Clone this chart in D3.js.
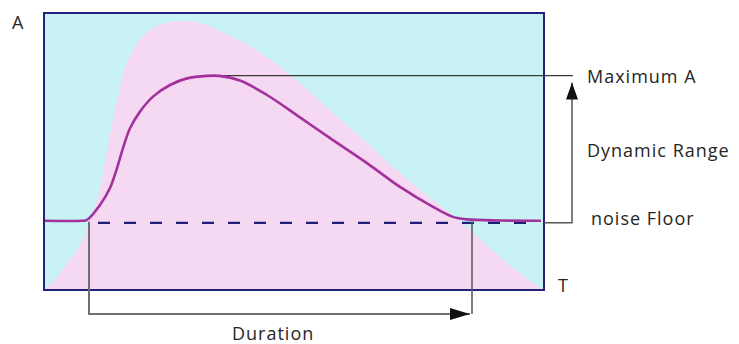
<!DOCTYPE html>
<html>

<head>
    <meta charset="utf-8">
    <script src="https://d3js.org/d3.v7.min.js"></script>
    <style>
        body { margin: 0; background: #fff; }
        text { font-family: "Open Sans", sans-serif; fill: #262626; font-weight: 500; letter-spacing: 1px; }
    </style>
</head>

<body>
    <script type="text/javascript">
        // envelope (pink area): time, amplitude
        let envelopeT = [0, 11, 23, 36, 46, 53, 58, 64, 71, 78, 84, 94, 106, 121, 141, 156, 189, 223, 256, 289, 323, 356, 389, 423, 456, 489, 500];
        let envelopeA = [0, 3.6, 9.7, 16.2, 25.3, 32.5, 40.8, 52.3, 65.0, 75.8, 83.0, 89.5, 93.9, 96.4, 97.1, 96.4, 91.3, 84.1, 74.7, 63.9, 53.1, 42.2, 32.5, 22.7, 11.9, 2.5, 0];

        // signal (purple line): time, amplitude
        let signalT = [1, 38, 43, 56, 66, 73, 79, 86, 96, 109, 126, 143, 163, 175, 196, 223, 256, 289, 323, 356, 389, 409, 423, 456, 497];
        let signalA = [25.0, 25.0, 25.3, 30.7, 36.8, 44.0, 51.2, 58.4, 64.4, 69.8, 74.0, 76.4, 77.3, 77.3, 75.6, 70.4, 62.3, 54.1, 45.8, 37.2, 30.0, 26.4, 25.5, 25.1, 25.0];

        let noiseFloor = 24.6;
        let maxA = 77.4;
        let maxT = 169;
        let durationStart = 45;
        let durationEnd = 428;

        let labels = ["A", "T", "Maximum A", "Dynamic Range", "noise Floor", "Duration"];

        let width = 739, height = 344;

        let svg = d3.select("body")
            .append("svg")
                .attr("width", width)
                .attr("height", height);

        let x = d3.scaleLinear().domain([0, 500]).range([44, 544]);
        let y = d3.scaleLinear().domain([0, 100]).range([290, 13]);

        let defs = svg.append("defs");
        function marker(id, len, wid) {
            defs.append("marker")
                .attr("id", id)
                .attr("viewBox", "0 0 10 10")
                .attr("refX", 10).attr("refY", 5)
                .attr("markerWidth", len).attr("markerHeight", wid)
                .attr("markerUnits", "userSpaceOnUse")
                .attr("orient", "auto")
                .attr("preserveAspectRatio", "none")
              .append("path")
                .attr("d", "M0,0 L10,5 L0,10 Z")
                .attr("fill", "#111");
        }
        marker("arrowUp", 17, 12);
        marker("arrowRight", 20, 12);

        // background
        svg.append("rect")
            .attr("x", x(0)).attr("y", y(100))
            .attr("width", x(500) - x(0)).attr("height", y(0) - y(100))
            .attr("fill", "#c9f2f4");

        let envelope = envelopeT.map((t, i) => ({t: t, a: envelopeA[i]}));
        let area = d3.area()
            .x(d => x(d.t))
            .y0(y(0))
            .y1(d => y(d.a))
            .curve(d3.curveCatmullRom);
        svg.append("path")
            .attr("d", area(envelope))
            .attr("fill", "#f5d9f3");

        // max A line
        svg.append("line")
            .attr("x1", x(maxT)).attr("x2", 573)
            .attr("y1", y(maxA)).attr("y2", y(maxA))
            .attr("stroke", "#3a3a3a").attr("stroke-width", 1.3);

        // noise floor dashed
        svg.append("line")
            .attr("x1", x(54)).attr("x2", x(496))
            .attr("y1", y(noiseFloor) + 1).attr("y2", y(noiseFloor) + 1)
            .attr("stroke", "#1e1e78").attr("stroke-width", 2.2)
            .attr("stroke-dasharray", "12,14");

        // signal
        let signal = signalT.map((t, i) => ({t: t, a: signalA[i]}));
        let line = d3.line()
            .x(d => x(d.t))
            .y(d => y(d.a))
            .curve(d3.curveCatmullRom);
        svg.append("path")
            .attr("d", line(signal))
            .attr("fill", "none")
            .attr("stroke", "#a4309c")
            .attr("stroke-width", 2.6);

        // frame
        svg.append("rect")
            .attr("x", x(0)).attr("y", y(100))
            .attr("width", x(500) - x(0)).attr("height", y(0) - y(100))
            .attr("fill", "none")
            .attr("stroke", "#22227a").attr("stroke-width", 2);

        // dynamic range arrow
        svg.append("path")
            .attr("d", `M${x(500)},${y(noiseFloor) + 1} H572 V${y(maxA) + 7}`)
            .attr("fill", "none")
            .attr("stroke", "#555").attr("stroke-width", 1.5)
            .attr("marker-end", "url(#arrowUp)");

        // duration bracket
        let yDur = y(0) + 24;
        svg.append("path")
            .attr("d", `M${x(durationStart)},${y(noiseFloor)} V${yDur} H${x(durationEnd) - 2}`)
            .attr("fill", "none")
            .attr("stroke", "#707070").attr("stroke-width", 2)
            .attr("marker-end", "url(#arrowRight)");
        svg.append("line")
            .attr("x1", x(durationEnd)).attr("x2", x(durationEnd))
            .attr("y1", y(noiseFloor)).attr("y2", yDur)
            .attr("stroke", "#555").attr("stroke-width", 1.5);

        // labels
        let pos = [[12, 29], [558, 292], [587, 83], [587, 157], [591, 225], [232, 340]];
        svg.selectAll("text.lbl")
            .data(labels)
            .join("text")
            .attr("class", "lbl")
            .attr("x", (d, i) => pos[i][0])
            .attr("y", (d, i) => pos[i][1])
            .attr("font-size", 18)
            .text(d => d);
    </script>
</body>

</html>
